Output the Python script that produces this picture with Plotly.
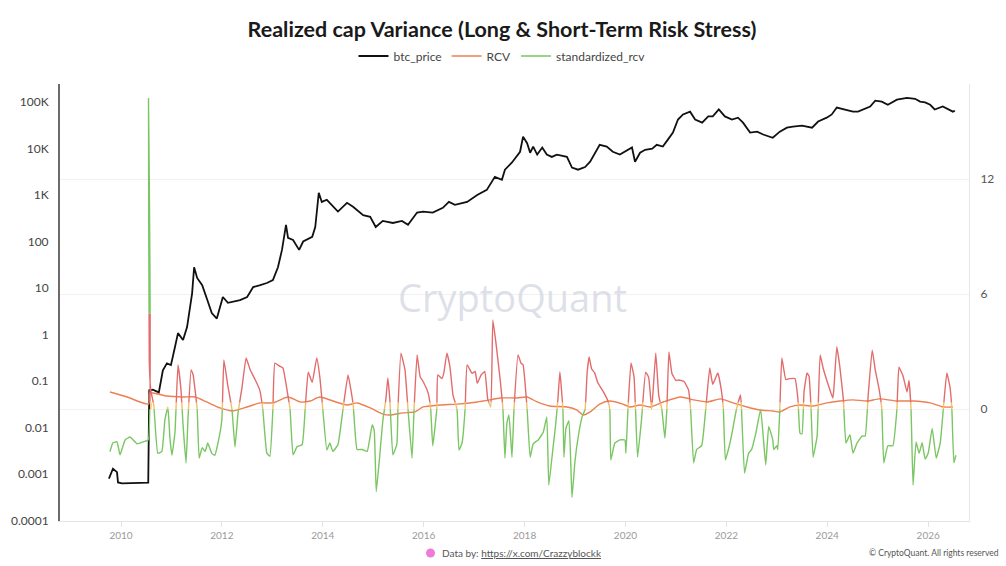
import plotly.graph_objects as go
from datetime import datetime

# ---------------- data ----------------
price_years = [2009.76, 2009.84, 2009.92, 2009.94, 2010.02, 2010.28, 2010.54, 2010.56, 2010.63, 2010.75,
               2010.83, 2010.91, 2010.99, 2011.07, 2011.13, 2011.23, 2011.31, 2011.41, 2011.45, 2011.51,
               2011.61, 2011.70, 2011.80, 2011.90, 2012.02, 2012.12, 2012.22, 2012.36, 2012.50, 2012.62,
               2012.76, 2012.89, 2013.01, 2013.11, 2013.19, 2013.27, 2013.31, 2013.41, 2013.53, 2013.61,
               2013.79, 2013.85, 2013.92, 2013.98, 2014.08, 2014.20, 2014.30, 2014.48, 2014.60, 2014.80,
               2014.94, 2015.05, 2015.19, 2015.39, 2015.57, 2015.69, 2015.87, 2015.99, 2016.18, 2016.38,
               2016.50, 2016.62, 2016.86, 2017.06, 2017.25, 2017.41, 2017.55, 2017.61, 2017.75, 2017.91,
               2017.97, 2018.05, 2018.11, 2018.17, 2018.25, 2018.35, 2018.44, 2018.54, 2018.64, 2018.84,
               2018.94, 2019.06, 2019.20, 2019.30, 2019.40, 2019.49, 2019.63, 2019.75, 2019.89, 2020.03,
               2020.13, 2020.19, 2020.29, 2020.39, 2020.53, 2020.62, 2020.74, 2020.84, 2020.94, 2021.04,
               2021.14, 2021.28, 2021.38, 2021.52, 2021.64, 2021.73, 2021.85, 2021.97, 2022.11, 2022.23,
               2022.33, 2022.47, 2022.61, 2022.73, 2022.86, 2022.92, 2023.06, 2023.20, 2023.32, 2023.50,
               2023.70, 2023.82, 2023.99, 2024.09, 2024.19, 2024.35, 2024.51, 2024.61, 2024.71, 2024.85,
               2024.95, 2025.08, 2025.20, 2025.38, 2025.58, 2025.74, 2025.84, 2025.94, 2026.04, 2026.13,
               2026.29, 2026.39, 2026.49, 2026.53]
btc_price = [0.0008, 0.0013, 0.0011, 0.00066, 0.00063, 0.00065, 0.00065, 0.063, 0.065, 0.057,
             0.17, 0.24, 0.22, 0.54, 1.07, 0.76, 1.45, 7.7, 28, 16.5,
             11.5, 6, 2.9, 2.2, 6.4, 4.8, 5.0, 5.5, 6.4, 10.5,
             11.5, 12.8, 14.8, 28, 66, 229, 120, 108, 66, 100,
             126, 205, 1120, 710, 790, 560, 440, 680, 560, 370,
             340, 205, 277, 250, 277, 229, 420, 440, 420, 530,
             710, 615, 710, 1000, 1290, 2460, 2130, 3500, 5000, 8500,
             18000, 13000, 8100, 11000, 7400, 10500, 7400, 6600, 7400, 6600,
             3900, 3500, 4000, 5200, 8100, 12000, 11000, 8500, 7400, 9000,
             10500, 5200, 8100, 9400, 9900, 12000, 11000, 15500, 22000, 42000,
             54000, 62000, 42000, 36000, 49000, 49000, 69000, 49000, 42000, 46000,
             36000, 22000, 23000, 20000, 18000, 17000, 23000, 28000, 29500, 31000,
             28000, 38000, 46000, 54000, 76000, 69000, 62000, 62000, 69000, 80000,
             107000, 102000, 87000, 112000, 123000, 117000, 102000, 98000, 87000, 69000,
             80000, 69000, 62000, 65000]

rcv_years = [2009.78, 2010.12, 2010.38, 2010.55, 2010.57, 2010.91, 2011.23, 2011.47, 2011.70, 2011.96,
             2012.22, 2012.50, 2012.76, 2013.01, 2013.31, 2013.55, 2013.75, 2013.94, 2014.20, 2014.48,
             2014.68, 2014.94, 2015.19, 2015.33, 2015.59, 2015.83, 2015.99, 2016.32, 2016.66, 2017.06,
             2017.31, 2017.51, 2017.85, 2018.05, 2018.25, 2018.50, 2018.84, 2019.04, 2019.16, 2019.30,
             2019.49, 2019.69, 2019.95, 2020.09, 2020.29, 2020.49, 2020.75, 2021.09, 2021.35, 2021.62,
             2021.88, 2022.13, 2022.41, 2022.67, 2022.92, 2023.06, 2023.26, 2023.46, 2023.72, 2023.99,
             2024.25, 2024.51, 2024.79, 2025.04, 2025.38, 2025.70, 2026.04, 2026.30, 2026.49]
rcv = [0.90, 0.64, 0.38, 0.27, 0.85, 0.69, 0.64, 0.64, 0.38, 0.07,
       -0.09, 0.12, 0.33, 0.33, 0.64, 0.38, 0.43, 0.64, 0.43, 0.22,
       0.33, 0.07, -0.25, -0.30, -0.19, -0.14, 0.12, 0.22, 0.27, 0.38,
       0.49, 0.59, 0.59, 0.64, 0.38, 0.17, 0.12, -0.04, -0.30, -0.14,
       0.27, 0.43, 0.27, 0.12, 0.22, 0.12, 0.38, 0.64, 0.49, 0.38,
       0.54, 0.33, 0.12, -0.04, -0.09, -0.14, 0.12, 0.22, 0.17, 0.33,
       0.43, 0.49, 0.43, 0.54, 0.43, 0.43, 0.33, 0.12, 0.12]

srcv_years = [2009.78, 2009.84, 2009.92, 2009.98, 2010.08, 2010.18, 2010.32, 2010.44, 2010.54, 2010.545,
              2010.56, 2010.59, 2010.65, 2010.73, 2010.81, 2010.87, 2010.93, 2010.97, 2011.01, 2011.07,
              2011.13, 2011.19, 2011.23, 2011.29, 2011.33, 2011.39, 2011.43, 2011.51, 2011.55, 2011.61,
              2011.67, 2011.72, 2011.80, 2011.86, 2011.92, 2012.00, 2012.04, 2012.12, 2012.20, 2012.26,
              2012.32, 2012.40, 2012.48, 2012.56, 2012.66, 2012.75, 2012.81, 2012.89, 2012.95, 2013.01,
              2013.05, 2013.15, 2013.21, 2013.29, 2013.35, 2013.41, 2013.49, 2013.59, 2013.65, 2013.71,
              2013.79, 2013.88, 2013.94, 2014.00, 2014.08, 2014.14, 2014.20, 2014.30, 2014.40, 2014.50,
              2014.60, 2014.68, 2014.78, 2014.88, 2014.98, 2015.02, 2015.06, 2015.13, 2015.19, 2015.25,
              2015.29, 2015.33, 2015.39, 2015.47, 2015.49, 2015.55, 2015.63, 2015.69, 2015.77, 2015.81,
              2015.87, 2015.93, 2015.99, 2016.09, 2016.14, 2016.18, 2016.26, 2016.28, 2016.36, 2016.40,
              2016.46, 2016.52, 2016.58, 2016.66, 2016.70, 2016.76, 2016.82, 2016.86, 2016.96, 2017.02,
              2017.06, 2017.14, 2017.21, 2017.27, 2017.33, 2017.37, 2017.43, 2017.51, 2017.57, 2017.61,
              2017.65, 2017.69, 2017.75, 2017.79, 2017.87, 2017.93, 2017.97, 2018.05, 2018.11, 2018.17,
              2018.27, 2018.37, 2018.44, 2018.48, 2018.56, 2018.62, 2018.66, 2018.70, 2018.76, 2018.78,
              2018.82, 2018.88, 2018.94, 2019.00, 2019.06, 2019.14, 2019.20, 2019.24, 2019.28, 2019.33,
              2019.39, 2019.45, 2019.55, 2019.65, 2019.69, 2019.71, 2019.79, 2019.89, 2019.99, 2020.01,
              2020.05, 2020.11, 2020.17, 2020.20, 2020.24, 2020.32, 2020.40, 2020.46, 2020.52, 2020.60,
              2020.66, 2020.72, 2020.78, 2020.82, 2020.86, 2020.92, 2021.00, 2021.06, 2021.16, 2021.25,
              2021.29, 2021.35, 2021.41, 2021.51, 2021.59, 2021.67, 2021.73, 2021.83, 2021.90, 2021.94,
              2021.98, 2022.04, 2022.10, 2022.20, 2022.28, 2022.30, 2022.36, 2022.44, 2022.50, 2022.58,
              2022.68, 2022.78, 2022.84, 2022.92, 2022.94, 2023.00, 2023.02, 2023.06, 2023.10, 2023.18,
              2023.26, 2023.36, 2023.42, 2023.46, 2023.50, 2023.54, 2023.60, 2023.64, 2023.68, 2023.72,
              2023.80, 2023.82, 2023.86, 2023.92, 2024.01, 2024.11, 2024.13, 2024.19, 2024.25, 2024.32,
              2024.37, 2024.45, 2024.51, 2024.59, 2024.69, 2024.75, 2024.81, 2024.89, 2024.95, 2025.03,
              2025.08, 2025.12, 2025.20, 2025.30, 2025.38, 2025.42, 2025.50, 2025.58, 2025.62, 2025.66,
              2025.70, 2025.76, 2025.82, 2025.88, 2025.94, 2026.00, 2026.08, 2026.16, 2026.24, 2026.30,
              2026.37, 2026.43, 2026.47, 2026.51, 2026.55]
standardized_rcv = [-2.21, -1.75, -1.70, -2.38, -1.60, -1.45, -1.80, -1.70, -1.60, 16.2,
                    2.5, 1.0, 0.2, -2.3, -2.2, -0.56, 0.12, -1.5, -2.4, -1.2,
                    2.31, 1.0, -0.8, -2.8, -0.4, 2.05, 1.8, 0.0, -2.55, -2.0,
                    -2.2, -1.76, -2.3, -2.4, -1.8, -0.56, 2.57, 1.2, 0.0, -1.97,
                    -0.2, 1.16, 2.68, 2.06, 1.54, 1.0, 0.0, -2.29, -2.45, 0.0,
                    2.41, 2.24, 2.15, 1.0, 0.0, -2.38, -1.95, -1.85, 0.0, 1.94,
                    1.4, 2.68, 1.7, 0.0, -2.13, -1.76, -2.2, -1.85, 0.0, 1.79,
                    0.3, -2.1, -2.1, -2.2, -0.8, -1.1, -4.3, -2.4, -0.6, 0.5,
                    1.63, 0.49, -2.38, -1.8, 0.0, 2.93, 2.06, 0.0, -2.55, 0.0,
                    2.84, 1.7, 1.45, 0.84, 0.0, -1.91, 0.0, 1.79, 1.6, 1.9,
                    2.93, 2.23, 0.75, 0.0, -2.13, -1.76, 0.0, 2.31, 1.87, 1.97,
                    1.36, 1.80, 1.97, 0.5, 0.12, 4.66, 3.5, 1.66, 0.0, -2.55,
                    -0.7, -0.3, -2.5, 0.0, 2.84, 2.4, 2.32, 0.0, -2.5, -1.8,
                    -1.6, -1.2, -0.4, -3.96, -2.1, -0.7, 0.5, 1.94, 0.0, -2.5,
                    -1.0, -0.6, -4.6, -2.7, -1.5, -0.4, 0.0, 1.89, 2.73, 2.1,
                    1.9, 1.4, 0.97, 0.45, 0.0, -2.65, -1.76, -1.6, -1.6, -2.29,
                    0.0, 2.41, 1.7, 0.0, -2.5, -0.5, 1.94, 1.66, 0.0, 2.93,
                    0.7, 0.0, -1.5, 0.0, 2.99, 1.87, 1.5, 1.53, 1.45, 1.0,
                    0.0, -2.8, -2.1, -1.9, 0.0, 2.15, 1.3, 1.89, 1.0, 0.0,
                    -2.65, -2.1, -1.4, 0.0, 0.75, 0.0, -3.33, -2.3, -2.1, -1.3,
                    0.0, -2.9, -0.9, -1.6, -2.1, -1.9, -2.1, 0.0, 2.68, 1.55,
                    1.6, 1.6, 0.5, -1.24, -1.3, 0.9, 1.89, 1.72, 0.0, -2.5,
                    -1.4, 0.0, 2.84, 2.14, 1.36, 0.59, 1.0, 3.26, 2.21, 0.5,
                    -1.76, -1.33, -2.29, -1.76, -1.4, -1.4, 0.7, 3.1, 2.06, 1.0,
                    0.0, -2.8, -1.9, -1.9, 0.0, 2.2, 1.75, 0.9, 1.5, 0.0,
                    -3.96, -1.7, -2.3, -1.75, -2.6, -2.3, -1.0, -2.55, -1.75, 0.0,
                    1.89, 1.2, 0.0, -2.8, -2.4]

left_tickvals = [1e-4, 1e-3, 1e-2, 1e-1, 1, 10, 100, 1e3, 1e4, 1e5]
left_ticktext = ["0.0001", "0.001", "0.01", "0.1", "1", "10", "100", "1K", "10K", "100K"]
right_tickvals = [0, 6, 12]


def to_date(y):
    yr = int(y)
    start, end = datetime(yr, 1, 1), datetime(yr + 1, 1, 1)
    return start + (end - start) * (y - yr)


px_dates = [to_date(v) for v in price_years]
rcv_dates = [to_date(v) for v in rcv_years]
s_dates = [to_date(v) for v in srcv_years]

# ---------------- styling / layout ----------------
Y2_MIN, Y2_MAX = -5.83, 16.97
GREEN = "rgb(122,198,98)"
RED = "rgb(226,108,108)"
YELLOW = "rgb(244,190,100)"
ORANGE = "rgb(236,128,82)"

bands = [(Y2_MIN, 0.0, GREEN), (0.0, 0.35, YELLOW), (0.35, 5.0, RED), (5.0, Y2_MAX, GREEN)]

L, R, T, B = 60, 37, 84, 45
PW, PH = 1006 - L - R, 566 - T - B


def frac(v):
    return (v - Y2_MIN) / (Y2_MAX - Y2_MIN)


def px_x(x):
    return (x - L) / PW


def px_y(y):
    return (566 - B - y) / PH


fig = go.Figure()
fig.add_trace(go.Scatter(x=px_dates, y=btc_price, name="btc_price", mode="lines",
                         line=dict(color="#111111", width=1.8), yaxis="y", hoverinfo="skip"))
fig.add_trace(go.Scatter(x=rcv_dates, y=rcv, name="RCV", mode="lines",
                         line=dict(color=ORANGE, width=1.4, shape="spline", smoothing=0.6),
                         yaxis="y2", hoverinfo="skip"))

layout_axes = {}
for i, (lo, hi, col) in enumerate(bands):
    ax = "y%d" % (i + 3)
    fig.add_trace(go.Scatter(x=s_dates, y=standardized_rcv, name="standardized_rcv", mode="lines",
                             line=dict(color=col, width=1.4, shape="spline", smoothing=0.35), yaxis=ax,
                             showlegend=(i == 0), hoverinfo="skip"))
    layout_axes["yaxis%d" % (i + 3)] = dict(domain=[frac(lo), frac(hi)], range=[lo, hi],
                                            anchor="x", visible=False, fixedrange=True)

fig.update_layout(
    width=1006, height=566,
    margin=dict(l=L, r=R, t=T, b=B),
    paper_bgcolor="white", plot_bgcolor="rgba(0,0,0,0)",
    font=dict(family="Lato, 'Noto Sans', sans-serif", color="#444"),
    title=dict(text="<b>Realized cap Variance (Long & Short-Term Risk Stress)</b>",
               x=0.499, xref="container", xanchor="center", y=1 - 29 / 566, yanchor="middle",
               font=dict(size=21.5, color="#1a1a1a", family="Lato, 'Noto Sans', sans-serif")),
    showlegend=True,
    legend=dict(orientation="h", x=px_x(502), xanchor="center", y=px_y(56), yanchor="middle",
                font=dict(size=12, color="#444"), itemwidth=30, bgcolor="rgba(0,0,0,0)"),
    xaxis=dict(type="date", range=[to_date(2008.79), to_date(2026.81)], anchor="y",
               tick0="2010-01-01", dtick="M24", tickformat="%Y",
               showgrid=False, showline=True, linecolor="#e3e3e3", linewidth=1,
               ticks="outside", ticklen=5, tickcolor="#e3e3e3",
               tickfont=dict(size=10, color="#9a9a9a"), zeroline=False),
    yaxis=dict(type="log", range=[-4.01, 5.387], domain=[0, 1], anchor="x",
               tickvals=left_tickvals, ticktext=left_ticktext, showgrid=False,
               showline=True, linecolor="#6b6b6b", linewidth=2,
               ticks="outside", ticklen=7, tickcolor="rgba(0,0,0,0)",
               tickfont=dict(size=12, color="#444"), zeroline=False),
    yaxis2=dict(range=[Y2_MIN, Y2_MAX], overlaying="y", side="right", anchor="x",
                tickvals=right_tickvals, showgrid=True, gridcolor="#f1f1f1", gridwidth=1,
                showline=True, linecolor="#e6e6e6", linewidth=1,
                ticks="outside", ticklen=8, tickcolor="rgba(0,0,0,0)",
                tickfont=dict(size=12, color="#555"), zeroline=False),
    **layout_axes,
)

# watermark
fig.add_annotation(text="CryptoQuant", x=px_x(512), y=px_y(297), xref="paper", yref="paper",
                   showarrow=False, font=dict(size=38, color="rgba(212,214,226,0.75)",
                                              family="'Open Sans', Lato, sans-serif"))
# footer: pink dot + source, copyright
fig.add_shape(type="circle", xref="paper", yref="paper",
              x0=px_x(426), x1=px_x(435), y0=px_y(557.5), y1=px_y(548.5),
              fillcolor="#ee7bd8", line=dict(width=0))
fig.add_annotation(text="Data by: <u>https://x.com/Crazzyblockk</u>", x=px_x(440),
                   y=px_y(553), xref="paper", yref="paper", xanchor="left", yanchor="middle",
                   showarrow=False, font=dict(size=10, color="#555"))
fig.add_annotation(text="© CryptoQuant. All rights reserved", x=px_x(1001), xref="paper",
                   y=px_y(553), yref="paper", xanchor="right", yanchor="middle",
                   showarrow=False, font=dict(size=8.5, color="#555"))

fig.write_html("out.html")
